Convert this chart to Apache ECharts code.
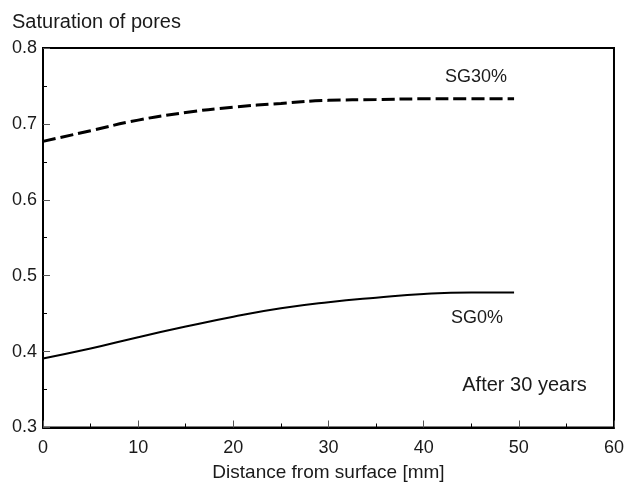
<!DOCTYPE html>
<html>
<head>
<meta charset="utf-8">
<script src="https://cdn.jsdelivr.net/npm/echarts@6/dist/echarts.min.js"></script>
<style>
  html, body { margin: 0; padding: 0; background: #fff; }
  #chart { width: 627px; height: 487px; }
</style>
</head>
<body>
<div id="chart"></div>
<script>
// Distance from surface [mm]
const distance = [0, 5, 10, 15, 20, 25, 30, 35, 40, 45, 49.5];
// Saturation of pores, SG30% mix (dashed)
const sg30 = [0.677, 0.691, 0.705, 0.715, 0.722, 0.727, 0.731, 0.732, 0.733, 0.733, 0.733];
// Saturation of pores, SG0% mix (solid)
const sg0 = [0.391, 0.404, 0.419, 0.433, 0.446, 0.457, 0.465, 0.471, 0.476, 0.478, 0.478];

const xTicks = { min: 0, max: 60, interval: 10 };
const yTicks = { min: 0.3, max: 0.8, interval: 0.1 };

const FONT = 'Liberation Sans, Arial, sans-serif';
const TXT = '#1a1a1a';

function pairs(xs, ys) { return xs.map((x, i) => [x, ys[i]]); }

// text placed at a data coordinate, no visible symbol
function note(text, coord, size) {
  return {
    coord: coord,
    symbol: 'circle',
    symbolSize: 0,
    label: { show: true, position: 'inside', formatter: text, color: TXT, fontSize: size, fontFamily: FONT }
  };
}

const axisCommon = {
  axisLine: { show: true, onZero: false, lineStyle: { color: '#000', width: 2 } },
  axisTick: { show: true, inside: true, length: 7, lineStyle: { color: '#555', width: 1 } },
  minorTick: { show: true, splitNumber: 2, length: 4, lineStyle: { color: '#000', width: 1 } },
  splitLine: { show: false },
  minorSplitLine: { show: false }
};

const chart = echarts.init(document.getElementById('chart'), null, { renderer: 'canvas' });
chart.setOption({
  animation: false,
  backgroundColor: '#fff',
  title: {
    text: 'Saturation of pores',
    left: 7, top: 7,
    textStyle: { fontSize: 20, fontWeight: 'normal', color: TXT, fontFamily: FONT }
  },
  grid: { left: 43, right: 12, top: 48, bottom: 56, show: true, borderColor: '#000', borderWidth: 2, backgroundColor: 'transparent' },
  xAxis: Object.assign({
    type: 'value',
    min: xTicks.min, max: xTicks.max, interval: xTicks.interval,
    name: 'Distance from surface [mm]',
    nameLocation: 'middle', nameGap: 45,
    nameMoveOverlap: false,
    nameTextStyle: { fontSize: 19, color: TXT, fontFamily: FONT, verticalAlign: 'middle' },
    axisLabel: { fontSize: 18, color: TXT, fontFamily: FONT, margin: 12 }
  }, axisCommon),
  yAxis: Object.assign({
    type: 'value',
    min: yTicks.min, max: yTicks.max, interval: yTicks.interval,
    axisLabel: {
      fontSize: 18, color: TXT, fontFamily: FONT, margin: 6,
      padding: [10, 0, 0, 0],
      formatter: v => v.toFixed(1)
    }
  }, axisCommon),
  series: [
    {
      type: 'line',
      data: pairs(distance, sg30),
      smooth: 0.5,
      showSymbol: false,
      lineStyle: { color: '#000', width: 3, type: [13, 5] },
      markPoint: { data: [note('SG30%', [45.5, 0.762], 18)] }
    },
    {
      type: 'line',
      data: pairs(distance, sg0),
      smooth: 0.5,
      showSymbol: false,
      lineStyle: { color: '#000', width: 2 },
      markPoint: { data: [note('SG0%', [45.6, 0.444], 18), note('After 30 years', [50.6, 0.356], 20)] }
    }
  ]
});
</script>
</body>
</html>
